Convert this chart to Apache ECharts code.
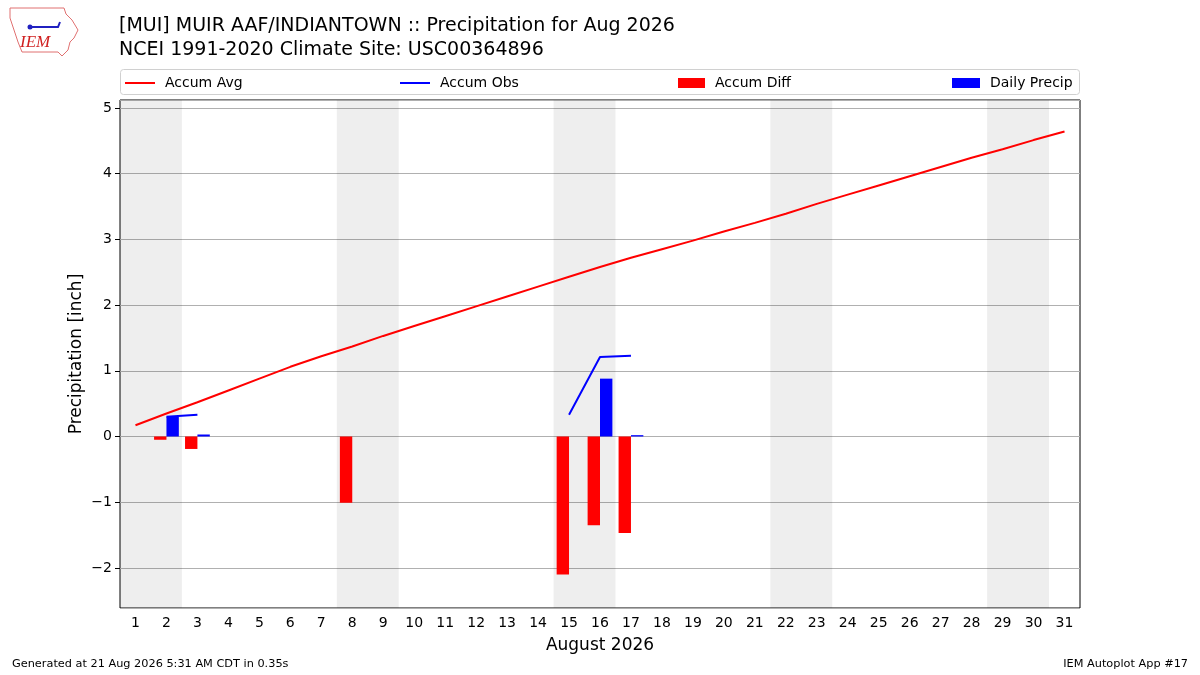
<!DOCTYPE html>
<html>
  <head>
    <title>MUIR AAF/INDIANTOWN Precipitation</title>
    <style>
      html,
      body {
        height: 100%;
        margin: 0;
        padding: 0;
        background: #fff;
      }
      #chart-container {
        width: 1200px;
        height: 675px;
      }
    </style>
    <script src="https://cdn.jsdelivr.net/npm/echarts@6/dist/echarts.min.js"></script>
  </head>
  <body>
    <div id="chart-container"></div>

    <script>
      // 日期（8月）
      var days = [];
      for (var d = 1; d <= 31; d++) days.push(String(d));

      // 气候平均累计降水
      var accumAvg = [
        0.17, 0.35, 0.52, 0.7, 0.88, 1.06, 1.22, 1.37, 1.53, 1.68, 1.83, 1.98,
        2.13, 2.28, 2.43, 2.58, 2.72, 2.85, 2.98, 3.12, 3.25, 3.39, 3.54, 3.68,
        3.82, 3.96, 4.1, 4.24, 4.37, 4.51, 4.64,
      ];
      // 实测累计降水（缺测为 null）
      var accumObs = [
        null, 0.3, 0.33, null, null, null, null, 0.33, null, null, null, null,
        null, null, 0.33, 1.21, 1.23, null, null, null, null, null, null, null,
        null, null, null, null, null, null, null,
      ];
      // 累计偏差
      var accumDiff = [
        null, -0.05, -0.19, null, null, null, null, -1.01, null, null, null, null,
        null, null, -2.1, -1.35, -1.47, null, null, null, null, null, null, null,
        null, null, null, null, null, null, null,
      ];
      // 日降水
      var dailyPrecip = [
        null, 0.3, 0.03, null, null, null, null, 0, null, null, null, null,
        null, null, 0, 0.88, 0.02, null, null, null, null, null, null, null,
        null, null, null, null, null, null, null,
      ];
      // 周末（阴影），首日与末日
      var weekends = [
        [1, 2],
        [8, 9],
        [15, 16],
        [22, 23],
        [29, 30],
      ];

      var FONT = "DejaVu Sans";

      var myChart = echarts.init(document.getElementById("chart-container"), "", {
        renderer: "canvas",
      });

      // 每个图例项单独放置，模仿 matplotlib 的 expand 模式
      function legendAt(left, name, w, h) {
        return {
          data: [{ name: name, icon: "rect" }],
          left: left,
          top: 76,
          padding: 0,
          itemWidth: w,
          itemHeight: h,
          selectedMode: false,
          textStyle: {
            fontFamily: FONT,
            fontSize: 14,
            color: "#000",
            padding: [0, 0, 0, 5],
          },
        };
      }

      var option = {
        animation: false,
        textStyle: { fontFamily: FONT },
        title: {
          text: "[MUI] MUIR AAF/INDIANTOWN :: Precipitation for Aug 2026",
          subtext: "NCEI 1991-2020 Climate Site: USC00364896",
          left: 114,
          top: 12,
          itemGap: 5,
          textStyle: { fontFamily: FONT, fontSize: 19, fontWeight: "normal", color: "#000" },
          subtextStyle: { fontFamily: FONT, fontSize: 19, color: "#000" },
        },
        legend: [
          legendAt(125, "Accum Avg", 30, 2),
          legendAt(400, "Accum Obs", 30, 2),
          legendAt(678, "Accum Diff", 27, 10),
          legendAt(952, "Daily Precip", 28, 10),
        ],
        grid: {
          left: 120,
          right: 120,
          top: 100,
          bottom: 67,
          show: true,
          borderColor: "#000",
          borderWidth: 1,
          backgroundColor: "transparent",
        },
        xAxis: [
          {
            type: "category",
            data: days,
            name: "August 2026",
            nameLocation: "middle",
            nameGap: 29,
            nameMoveOverlap: false,
            nameTextStyle: { fontFamily: FONT, fontSize: 17, color: "#000" },
            axisLine: { show: false },
            axisTick: { alignWithLabel: true, interval: 0, length: 5, lineStyle: { color: "#000" } },
            axisLabel: { interval: 0, fontFamily: FONT, fontSize: 14, color: "#000", margin: 8 },
            splitLine: { show: false },
          },
          {
            // 隐藏的数值轴，用于周末阴影覆盖整日
            type: "value",
            min: 0.5,
            max: 31.5,
            show: false,
          },
        ],
        yAxis: {
          type: "value",
          min: -2.61,
          max: 5.12,
          splitNumber: 7,
          name: "Precipitation [inch]",
          nameLocation: "middle",
          nameGap: 35,
          nameMoveOverlap: false,
          nameTextStyle: { fontFamily: FONT, fontSize: 17, color: "#000" },
          axisLine: { show: false },
          axisTick: { show: true, length: 5, lineStyle: { color: "#000" } },
          axisLabel: {
            showMinLabel: false,
            showMaxLabel: false,
            fontFamily: FONT,
            fontSize: 14,
            color: "#000",
            margin: 8,
            formatter: function (value) {
              return String(value).replace("-", "\u2212");
            },
          },
          splitLine: { show: true, lineStyle: { color: "#b0b0b0", width: 1 } },
        },
        series: [
          {
            name: "weekend",
            type: "line",
            xAxisIndex: 1,
            data: [],
            silent: true,
            markArea: {
              silent: true,
              itemStyle: { color: "rgba(0,0,0,0.066)" },
              data: weekends.map(function (w) {
                return [{ xAxis: w[0] - 0.5 }, { xAxis: w[1] + 0.5 }];
              }),
            },
            z: 1,
          },
          {
            name: "Accum Avg",
            type: "line",
            data: accumAvg,
            symbol: "none",
            color: "#ff0000",
            lineStyle: { color: "#ff0000", width: 2 },
            z: 4,
          },
          {
            name: "Accum Obs",
            type: "line",
            data: accumObs,
            symbol: "none",
            connectNulls: false,
            color: "#0000ff",
            lineStyle: { color: "#0000ff", width: 2 },
            z: 4,
          },
          {
            name: "Accum Diff",
            type: "bar",
            data: accumDiff,
            barWidth: "40%",
            barGap: "0%",
            color: "#ff0000",
            itemStyle: { color: "#ff0000" },
          },
          {
            name: "Daily Precip",
            type: "bar",
            data: dailyPrecip,
            barWidth: "40%",
            barGap: "0%",
            color: "#0000ff",
            itemStyle: { color: "#0000ff" },
          },
        ],
        graphic: [
          // 图例边框
          {
            type: "rect",
            shape: { x: 120.5, y: 69.5, width: 959, height: 25, r: 3 },
            style: { fill: "rgba(255,255,255,0.8)", stroke: "#d0d0d0", lineWidth: 1 },
            z: -1,
          },
          // IEM 标志（简化）
          {
            type: "polyline",
            shape: {
              points: [
                [10, 8], [64, 8], [66, 14], [72, 20], [78, 30], [74, 38], [70, 42],
                [68, 50], [62, 56], [58, 52], [22, 52], [18, 42], [14, 30], [10, 18], [10, 8],
              ],
            },
            style: { fill: "none", stroke: "#e07070", lineWidth: 1 },
          },
          {
            type: "polyline",
            shape: { points: [[28, 27], [58, 27], [60, 22]] },
            style: { stroke: "#2020c0", lineWidth: 2, fill: "none" },
          },
          {
            type: "circle",
            shape: { cx: 30, cy: 27, r: 2.5 },
            style: { fill: "#2020c0" },
          },
          {
            type: "text",
            left: 20,
            top: 34,
            style: {
              text: "IEM",
              fill: "#d02020",
              font: "italic 17px 'Liberation Serif'",
            },
          },
          // 页脚
          {
            type: "text",
            left: 12,
            top: 659,
            style: {
              text: "Generated at 21 Aug 2026 5:31 AM CDT in 0.35s",
              fill: "#000",
              font: "11.3px 'DejaVu Sans'",
            },
          },
          {
            type: "text",
            right: 12,
            top: 659,
            style: {
              text: "IEM Autoplot App #17",
              fill: "#000",
              font: "11.3px 'DejaVu Sans'",
            },
          },
        ],
      };

      myChart.setOption(option);
    </script>
  </body>
</html>
